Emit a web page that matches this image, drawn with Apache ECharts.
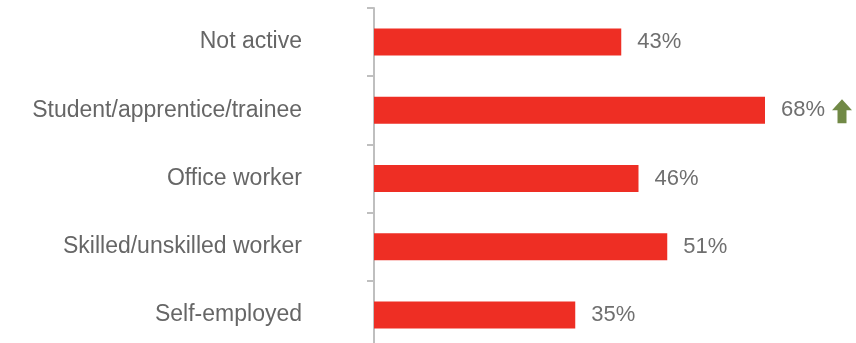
<!DOCTYPE html>
<html><head><meta charset="utf-8">
<script src="https://cdn.jsdelivr.net/npm/echarts@6/dist/echarts.min.js"></script>
<style>html,body{margin:0;padding:0;background:#fff}#c{width:856px;height:343px}</style>
</head><body><div id="c"></div>
<script>
var categories = ['Not active', 'Student/apprentice/trainee', 'Office worker', 'Skilled/unskilled worker', 'Self-employed'];
var values = [43, 68, 46, 51, 35];
var trend = ['', 'up', '', '', ''];

var chart = echarts.init(document.getElementById('c'));
var arrowData = [];
for (var i = 0; i < categories.length; i++) {
  if (trend[i] === 'up') arrowData.push([values[i], categories[i]]);
}
chart.setOption({
  animation: false,
  grid: { left: 374, width: 460, top: 8, height: 341, containLabel: false, outerBoundsMode: 'none' },
  xAxis: { type: 'value', min: 0, max: 80, show: false },
  yAxis: {
    type: 'category', data: categories, inverse: true,
    axisLine: { show: true, lineStyle: { color: '#BFBFBF', width: 2 } },
    axisTick: { show: true, length: 7, lineStyle: { color: '#BFBFBF', width: 2 } },
    axisLabel: { margin: 72, color: '#666666', fontSize: 23, fontFamily: 'Liberation Sans, Arial, sans-serif' },
    splitLine: { show: false }
  },
  series: [{
    type: 'bar', data: values, barWidth: 27,
    itemStyle: { color: '#EE2E24' },
    label: { show: true, position: 'right', distance: 16, formatter: '{c}%', color: '#6F6F6F', fontSize: 22, fontFamily: 'Liberation Sans, Arial, sans-serif' }
  }, {
    type: 'scatter', data: arrowData, z: 5,
    symbol: 'path://M10,0 L20,11 L14.5,11 L14.5,24 L5.5,24 L5.5,11 L0,11 Z',
    symbolSize: [20, 24], symbolOffset: [77, 1],
    itemStyle: { color: '#4E6B18' }, silent: true
  }]
});
</script></body></html>
